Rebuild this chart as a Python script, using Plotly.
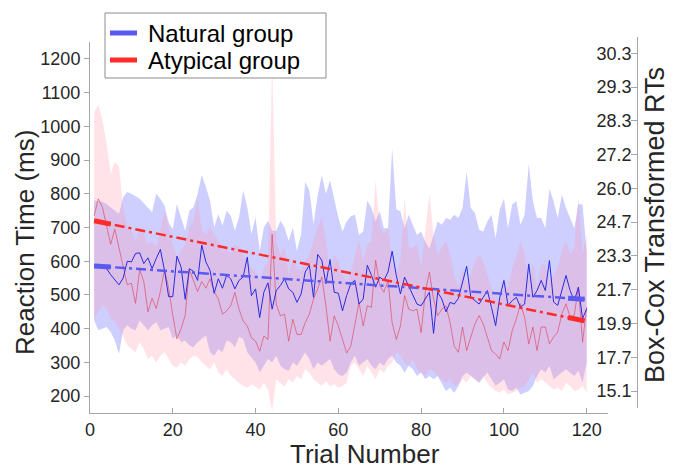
import plotly.graph_objects as go

trials = list(range(1, 121))

nat_mean = [590, 583, 580, 578, 560, 545, 530, 550, 600, 598, 623, 625, 593, 610, 578, 608, 635, 573, 495, 495,
            615, 583, 487, 578, 570, 543, 648, 598, 573, 505, 548, 520, 558, 548, 518, 543, 553, 612, 498, 518,
            433, 508, 536, 458, 513, 528, 548, 518, 508, 478, 503, 568, 588, 493, 620, 603, 533, 605, 508, 505,
            453, 498, 533, 543, 473, 488, 588, 558, 523, 553, 543, 568, 630, 558, 503, 553, 528, 498, 473, 468,
            488, 508, 386, 508, 488, 450, 478, 473, 490, 540, 585, 493, 483, 473, 493, 513, 463, 409, 493, 543,
            469, 483, 493, 464, 473, 592, 493, 513, 543, 513, 602, 479, 469, 513, 558, 513, 483, 523, 430, 459]

aty_mean = [735, 785, 760, 700, 650, 695, 640, 590, 530, 535, 475, 575, 540, 450, 490, 460, 510, 575, 520, 440,
            370, 400, 440, 575, 540, 510, 540, 520, 548, 510, 488, 443, 453, 468, 508, 458, 423, 408, 373, 363,
            333, 378, 368, 680, 473, 438, 443, 363, 428, 383, 383, 418, 443, 488, 518, 553, 468, 363, 438, 408,
            368, 328, 348, 418, 478, 408, 468, 463, 603, 528, 508, 543, 418, 368, 408, 498, 458, 453, 458, 388,
            508, 568, 488, 438, 458, 468, 418, 348, 330, 405, 335, 375, 414, 439, 414, 375, 335, 325, 310, 360,
            335, 394, 429, 474, 434, 355, 405, 335, 405, 405, 355, 375, 390, 444, 474, 434, 440, 523, 360, 464]

nat_hi = [780, 778, 776, 770, 760, 748, 740, 790, 805, 800, 792, 785, 772, 760, 745, 800, 785, 765, 715, 695,
          770, 730, 690, 750, 760, 800, 855, 820, 780, 700, 740, 705, 750, 735, 690, 730, 810, 760, 680, 730,
          630, 700, 720, 690, 690, 720, 700, 660, 700, 630, 680, 835, 810, 710, 795, 855, 800, 840, 780, 730,
          688, 718, 733, 738, 678, 688, 780, 758, 718, 748, 698, 698, 935, 753, 748, 698, 738, 708, 678, 688,
          658, 638, 678, 718, 708, 728, 723, 738, 728, 758, 865, 758, 743, 693, 688, 718, 738, 668, 753, 785,
          698, 768, 778, 708, 738, 888, 778, 728, 728, 698, 815, 778, 728, 798, 758, 728, 698, 770, 768, 628]

nat_lo = [425, 395, 400, 405, 390, 365, 325, 395, 410, 400, 395, 424, 410, 395, 410, 420, 395, 400, 405, 370,
          380, 360, 365, 350, 345, 360, 370, 380, 330, 320, 340, 330, 365, 360, 345, 375, 370, 330, 315, 300,
          270, 290, 310, 300, 320, 290, 280, 275, 300, 290, 310, 330, 310, 280, 300, 290, 300, 310, 280, 265,
          260, 270, 300, 320, 290, 300, 310, 290, 280, 300, 290, 310, 320, 300, 290, 270, 290, 280, 260, 270,
          250, 260, 250, 260, 240, 215, 225, 210, 230, 260, 270, 260, 250, 240, 255, 270, 250, 230, 240, 250,
          220, 215, 225, 205, 210, 215, 230, 260, 280, 270, 290, 250, 260, 270, 280, 270, 260, 275, 240, 300]

aty_hi = [1040, 1065, 1020, 950, 860, 895, 880, 760, 700, 690, 660, 700, 680, 650, 660, 640, 690, 748, 700, 650,
          610, 630, 650, 700, 720, 785, 690, 680, 700, 680, 660, 630, 640, 620, 650, 640, 620, 600, 580, 570,
          540, 580, 600, 1195, 660, 620, 640, 560, 610, 580, 570, 600, 620, 660, 700, 730, 660, 560, 620, 600,
          560, 540, 560, 620, 660, 600, 650, 660, 840, 700, 680, 700, 600, 560, 600, 790, 640, 640, 650, 580,
          700, 800, 680, 620, 640, 660, 620, 560, 520, 580, 530, 560, 600, 620, 600, 560, 520, 500, 490, 540,
          520, 580, 610, 660, 620, 540, 590, 520, 590, 590, 540, 560, 580, 630, 660, 620, 640, 790, 620, 680]

aty_lo = [430, 450, 470, 460, 430, 420, 400, 380, 350, 340, 330, 360, 340, 310, 320, 300, 320, 330, 310, 290,
          285, 300, 290, 310, 320, 316, 300, 290, 280, 300, 270, 260, 280, 260, 250, 240, 230, 225, 235, 228,
          220, 240, 220, 155, 250, 240, 228, 250, 240, 260, 250, 280, 270, 250, 240, 230, 245, 228, 235, 225,
          230, 240, 290, 300, 280, 260, 290, 270, 250, 280, 270, 290, 300, 330, 320, 300, 290, 310, 280, 270,
          260, 280, 275, 260, 250, 240, 250, 230, 235, 250, 240, 260, 250, 240, 260, 240, 225, 215, 210, 220,
          205, 210, 215, 225, 230, 250, 270, 240, 250, 240, 230, 220, 225, 215, 240, 230, 215, 220, 230, 210]

trend_trials = [1, 119.5]
nat_trend = [586, 487]
aty_trend = [720, 423]
start_window = [1, 5]
end_window = [115.5, 119.5]

left_ticks = [200, 300, 400, 500, 600, 700, 800, 900, 1000, 1100, 1200]
boxcox_labels = ["15.1", "17.7", "19.9", "21.7", "23.3", "24.7", "26.0", "27.2", "28.3", "29.3", "30.3"]
x_ticks = [0, 20, 40, 60, 80, 100, 120]
group_names = ["Natural group", "Atypical group"]


def interp(xs, ys, x):
    return ys[0] + (ys[1] - ys[0]) * (x - xs[0]) / (xs[1] - xs[0])


FONT = "Liberation Sans, Arial, sans-serif"
AX = "#a6a6a6"
TXT = "#262626"
BLUE = "#5a5af2"
RED = "#ff2a2a"

# pixel helpers for layout-only items (legend box, axis titles)
L, R, T, B, W, H = 90, 44, 37, 57, 681, 470
PW, PH = W - L - R, H - T - B


def px(x):
    return (x - L) / PW


def py(y):
    return (H - B - y) / PH


fig = go.Figure()

fig.add_trace(go.Scatter(x=trials + trials[::-1], y=nat_hi + nat_lo[::-1], fill="toself",
                         fillcolor="rgba(110,110,255,0.34)", line=dict(width=0), mode="lines",
                         showlegend=False, hoverinfo="skip"))
fig.add_trace(go.Scatter(x=trials + trials[::-1], y=aty_hi + aty_lo[::-1], fill="toself",
                         fillcolor="rgba(255,150,170,0.27)", line=dict(width=0), mode="lines",
                         showlegend=False, hoverinfo="skip"))
fig.add_trace(go.Scatter(x=trials, y=aty_mean, mode="lines",
                         line=dict(color="rgba(220,70,95,0.65)", width=1), showlegend=False))
fig.add_trace(go.Scatter(x=trials, y=nat_mean, mode="lines",
                         line=dict(color="#2a2ae0", width=1), showlegend=False))

dash = "10px,4px,3px,4px"
fig.add_trace(go.Scatter(x=trend_trials, y=nat_trend, mode="lines",
                         line=dict(color=BLUE, width=2.5, dash=dash), showlegend=False))
fig.add_trace(go.Scatter(x=trend_trials, y=aty_trend, mode="lines",
                         line=dict(color=RED, width=2.5, dash=dash), showlegend=False))

for win in (start_window, end_window):
    fig.add_trace(go.Scatter(x=win, y=[interp(trend_trials, nat_trend, v) for v in win], mode="lines",
                             line=dict(color=BLUE, width=5), showlegend=False))
    fig.add_trace(go.Scatter(x=win, y=[interp(trend_trials, aty_trend, v) for v in win], mode="lines",
                             line=dict(color=RED, width=5), showlegend=False))

# dummy trace to carry the right-hand axis
fig.add_trace(go.Scatter(x=[60], y=[600], yaxis="y2", mode="markers",
                         marker=dict(opacity=0), showlegend=False, hoverinfo="skip"))

shapes = [dict(type="rect", xref="paper", yref="paper", x0=px(105), x1=px(326), y0=py(78), y1=py(13),
               line=dict(color="#8c8c8c", width=1), fillcolor="white", layer="above")]
annotations = []
for i, (name, col) in enumerate(zip(group_names, [BLUE, RED])):
    yy = 33 + 27 * i
    shapes.append(dict(type="line", xref="paper", yref="paper", x0=px(110), x1=px(137),
                       y0=py(yy), y1=py(yy), line=dict(color=col, width=5), layer="above"))
    annotations.append(dict(text=name, xref="paper", yref="paper", x=px(146), y=py(yy + 1),
                            xanchor="left", yanchor="middle", showarrow=False,
                            font=dict(size=24, color="black", family=FONT)))

annotations += [
    dict(text="Reaction Time (ms)", xref="paper", yref="paper", x=px(25), y=py(243), textangle=-90,
         xanchor="center", yanchor="middle", showarrow=False, font=dict(size=26, color=TXT, family=FONT)),
    dict(text="Trial Number", xref="paper", yref="paper", x=px(365), y=py(454),
         xanchor="center", yanchor="middle", showarrow=False, font=dict(size=26, color=TXT, family=FONT)),
    dict(text="Box-Cox Transformed RTs", xref="paper", yref="paper", x=px(655), y=py(225), textangle=-90,
         xanchor="center", yanchor="middle", showarrow=False, font=dict(size=27, color=TXT, family=FONT)),
]

fig.update_layout(
    width=W, height=H,
    margin=dict(l=L, r=R, t=T, b=B),
    paper_bgcolor="white", plot_bgcolor="rgba(0,0,0,0)",
    font=dict(family=FONT, color=TXT),
    showlegend=False,
    xaxis=dict(domain=[0, 0.947], range=[0, 125.15], tickvals=x_ticks,
               showgrid=False, zeroline=False, showline=True, linecolor=AX, linewidth=1,
               ticks="inside", ticklen=5, tickcolor=AX, tickfont=dict(size=18, color=TXT),
               ticklabelstandoff=0, anchor="y"),
    yaxis=dict(domain=[0, 0.9867], range=[150, 1250], tickvals=left_ticks,
               showgrid=False, zeroline=False, showline=True, linecolor=AX, linewidth=1,
               ticks="outside", ticklen=5, tickcolor=AX, tickfont=dict(size=18, color=TXT),
               anchor="x"),
    yaxis2=dict(domain=[0.0133, 1], range=[150, 1248], tickvals=left_ticks, ticktext=boxcox_labels,
                anchor="free", position=1, side="right", ticklabelposition="inside",
                showgrid=False, zeroline=False, showline=True, linecolor=AX, linewidth=1,
                ticks="inside", ticklen=6, tickcolor=AX, tickfont=dict(size=18, color=TXT)),
    shapes=shapes,
    annotations=annotations,
)

fig.write_html("out.html")
